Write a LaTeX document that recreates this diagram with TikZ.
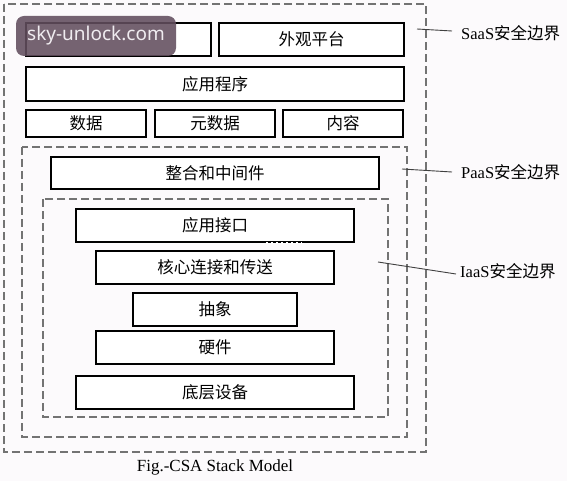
\documentclass[tikz,border=0pt]{standalone}
\usepackage{fontspec}
\setmainfont{Liberation Serif}
\newfontfamily\cjk{Noto Sans CJK SC}
\newfontfamily\wmfont{Noto Sans}
\begin{document}
\begin{tikzpicture}[x=1pt,y=-1pt,
  layer/.style={draw=black, line width=1.8pt, fill=white, inner sep=0pt,
    font=\cjk\fontsize{16.5}{17}\selectfont},
  bound/.style={draw=black!55, line width=1.3pt, dash pattern=on 8pt off 4pt},
  lbl/.style={anchor=west, inner sep=0pt, font=\fontsize{16.5}{17}\selectfont},
  leader/.style={draw=black!75, line width=0.9pt}]
\useasboundingbox (0,0) rectangle (567,481);
\fill[white!98!violet] (0,0) rectangle (567,481);
% security boundaries
\draw[bound] (4,4) rectangle (426,452);
\draw[bound] (22,147) rectangle (407,437);
\draw[bound] (43,199) rectangle (388,417);
% SaaS layers
\node[layer, minimum width=185pt, minimum height=33pt] (pres) at (118.5,39.5) {};
\node[layer, minimum width=185pt, minimum height=33pt] (plat) at (311.5,39.5) {外观平台};
\node[layer, minimum width=378pt, minimum height=34pt] (app) at (215,84) {应用程序};
\node[layer, minimum width=120pt, minimum height=27pt] (data) at (86,123.5) {数据};
\node[layer, minimum width=120pt, minimum height=27pt] (meta) at (215,123.5) {元数据};
\node[layer, minimum width=120pt, minimum height=27pt] (cont) at (343,123.5) {内容};
% PaaS
\node[layer, minimum width=328pt, minimum height=32pt] (mid) at (215,173) {整合和中间件};
% IaaS
\node[layer, minimum width=278pt, minimum height=33pt] (api) at (215,225.5) {应用接口};
\node[layer, minimum width=238pt, minimum height=33pt] (core) at (215,267.5) {核心连接和传送};
\node[layer, minimum width=164pt, minimum height=33pt] (abs) at (215,309.5) {抽象};
\node[layer, minimum width=238pt, minimum height=33pt] (hw) at (215,347.5) {硬件};
\node[layer, minimum width=278pt, minimum height=33pt] (fac) at (215,392.5) {底层设备};
\draw[white, line width=1.2pt, dash pattern=on 2pt off 3pt]
  ([xshift=51pt]api.south) -- ([xshift=87pt]api.south);
% boundary labels
\node[lbl] (lsaas) at (461,33) {SaaS{\cjk 安全边界}};
\node[lbl] (lpaas) at (461,172) {PaaS{\cjk 安全边界}};
\node[lbl] (liaas) at (460,271) {IaaS{\cjk 安全边界}};
\coordinate (psaas) at (417,29);
\coordinate (ppaas) at (402,169);
\coordinate (piaas) at (378,262);
\draw[leader] (psaas) -- ([xshift=-9pt,yshift=2pt]lsaas.west);
\draw[leader] (ppaas) -- ([xshift=-9pt]lpaas.west);
\draw[leader] (piaas) -- ([xshift=-4pt,yshift=-3pt]liaas.west);
% caption
\node[inner sep=0pt, font=\fontsize{17}{17}\selectfont] (cap) at (215,467) {Fig.-CSA Stack Model};
% watermark
\node[fill={rgb,255:red,98;green,78;blue,94}, fill opacity=0.88, text opacity=1,
  rounded corners=8pt, minimum width=160pt, minimum height=40pt, inner sep=0pt,
  text={rgb,255:red,240;green,236;blue,240}, font=\wmfont\fontsize{19}{19}\selectfont]
  (wm) at (96,36) {sky-unlock.com};
\end{tikzpicture}
\end{document}
